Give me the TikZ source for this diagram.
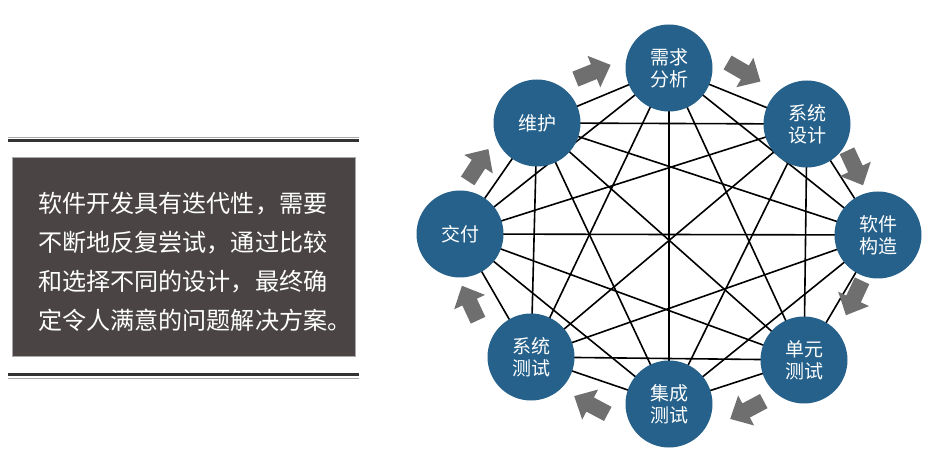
\documentclass[tikz,border=0pt]{standalone}
\usepackage{fontspec}
\setmainfont{Liberation Sans}
\newfontfamily\cjk{Noto Sans CJK SC}
\usetikzlibrary{backgrounds}
\definecolor{nodeblue}{HTML}{25618B}
\definecolor{arrowgray}{HTML}{6F6F6F}
\definecolor{panelgray}{HTML}{4A4544}
\definecolor{rulegray}{HTML}{A8A8A8}
\definecolor{ruledark}{HTML}{333333}
\tikzset{
  circ/.style={circle, fill=nodeblue, minimum size=87pt, inner sep=0pt, text=white,
    align=center, font=\cjk\fontsize{19}{22}\selectfont},
  link/.style={black, line width=1.6pt},
  blockarrow/.pic={\fill[arrowgray] (-19,-8) -- (1,-8) -- (1,-17) -- (19,0) -- (1,17) -- (1,8) -- (-19,8) -- cycle;},
  paneltext/.style={text=white, align=left, anchor=west, inner sep=0pt,
    font=\cjk\fontsize{24.1}{39}\selectfont},
  panel/.style={fill=panelgray, draw=rulegray, line width=0.6pt},
  thinrule/.style={rulegray, line width=1pt},
  thickrule/.style={ruledark, line width=3pt}
}
\begin{document}
\begin{tikzpicture}[x=1pt,y=-1pt]
\useasboundingbox (0,0) rectangle (938,457);

% left panel
\draw[thinrule] (8,137.5) -- (359,137.5);
\draw[thickrule] (8,141) -- (359,141);
\draw[thickrule] (8,374.5) -- (359,374.5);
\draw[thinrule] (8,378.5) -- (359,378.5);
\node[panel, minimum width=343pt, minimum height=199pt, anchor=north west] (box) at (12,157) {};
\node[paneltext] (txt) at (38,262) {软件开发具有迭代性，需要\\不断地反复尝试，通过比较\\和选择不同的设计，最终确\\定令人满意的问题解决方案。};

% circles
\node[circ] (A) at (669,68) {需求\\分析};
\node[circ] (B) at (807,124) {系统\\设计};
\node[circ] (C) at (878,235) {软件\\构造};
\node[circ] (D) at (804,360) {单元\\测试};
\node[circ] (E) at (669,404) {集成\\测试};
\node[circ] (F) at (531,357) {系统\\测试};
\node[circ] (G) at (460,234) {交付};
\node[circ] (H) at (537,123) {维护};

% complete graph connectors
\begin{scope}[on background layer]
\fill[white] (0,0) rectangle (938,457);
\foreach \a/\b in {A/B,A/C,A/D,A/E,A/F,A/G,A/H,
                   B/C,B/D,B/E,B/F,B/G,B/H,
                   C/D,C/E,C/F,C/G,C/H,
                   D/E,D/F,D/G,D/H,
                   E/F,E/G,E/H,
                   F/G,F/H,
                   G/H}
  \draw[link] (\a.center) -- (\b.center);
\end{scope}

% cycle arrows
\pic[rotate=22] at (593,72) {blockarrow};
\pic[rotate=-30] at (744,72) {blockarrow};
\pic[rotate=-65] at (855,168) {blockarrow};
\pic[rotate=-115] at (854,298) {blockarrow};
\pic[rotate=-152] at (747,410) {blockarrow};
\pic[rotate=152] at (591,405) {blockarrow};
\pic[rotate=115] at (470,303) {blockarrow};
\pic[rotate=57] at (478,165) {blockarrow};
\end{tikzpicture}
\end{document}
